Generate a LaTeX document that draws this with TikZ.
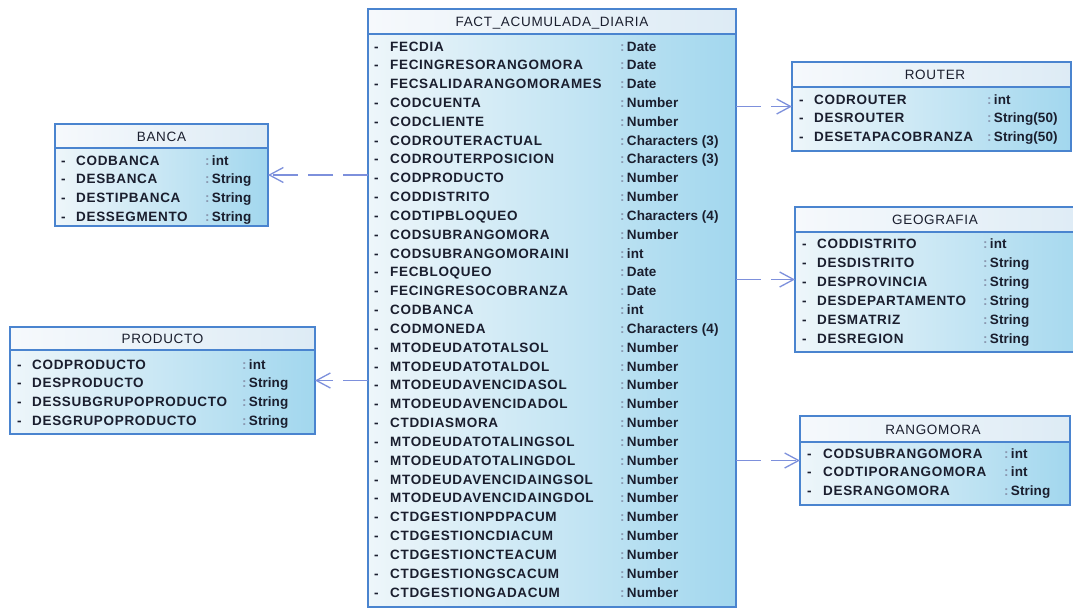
\documentclass[tikz,border=0pt]{standalone}
\usepackage{fontspec}
\setmainfont{Liberation Sans}
\newfontfamily\rowfont[LetterSpace=5]{Liberation Sans}
\newfontfamily\typefont[LetterSpace=0.5]{Liberation Sans}
\newfontfamily\titlefont[LetterSpace=5]{Liberation Sans}
\usetikzlibrary{arrows.meta}

\definecolor{boxline}{HTML}{4A84CF}
\definecolor{fillL}{HTML}{EEF6FA}
\definecolor{fillR}{HTML}{A2D7EE}
\definecolor{hdrL}{HTML}{F6F9FC}
\definecolor{hdrR}{HTML}{DDEBF5}
\definecolor{linkc}{HTML}{7D90DC}
\definecolor{textc}{HTML}{1A1E2E}
\definecolor{colonc}{HTML}{8A98B0}

\tikzset{
  x=1pt, y=-1pt,
  tablebody/.style={draw=boxline, line width=1.5pt, left color=fillL, right color=fillR,
    anchor=north west, inner sep=0pt, outer sep=0pt},
  tablehead/.style={draw=boxline, line width=1.5pt, left color=hdrL, right color=hdrR,
    anchor=north west, inner sep=0pt, outer sep=0pt},
  tabletitle/.style={text=textc, font=\titlefont\fontsize{13.5}{15}\selectfont, inner sep=0pt, anchor=base},
  rowdash/.style={text=textc, font=\rowfont\bfseries\fontsize{13.5}{15}\selectfont, inner sep=0pt, anchor=base west},
  rowname/.style={text=textc, font=\rowfont\bfseries\fontsize{13.5}{15}\selectfont, inner sep=0pt, anchor=base west},
  rowtype/.style={text=textc, font=\typefont\bfseries\fontsize{13.5}{15}\selectfont, inner sep=0pt, anchor=base west},
  link/.style={draw=linkc, line width=1.3pt, dash pattern=on 25pt off 10pt,
    -{Straight Barb[length=14pt,width=15pt,line width=1.3pt]}},
}

% rows of a table: #1 prefix, #2 dash x, #3 name x, #4 colon x, #5 first baseline, #6 row step
\newcommand{\tablerows}[6]{%
  \foreach \n/\t [count=\i from 0] in \rowlist {
    \node[rowdash] (#1-d\i) at (#2, #5+\i*#6) {-};
    \node[rowname] (#1-n\i) at (#3, #5+\i*#6) {\n};
    \node[rowtype] (#1-t\i) at (#4, #5+\i*#6) {{\color{colonc}:}\,\t};
  }%
}

\begin{document}
\begin{tikzpicture}
\useasboundingbox (0,0) rectangle (1073,611);
\fill[white] (0,0) rectangle (1073,611);

% ---- FACT_ACUMULADA_DIARIA ----
\node[tablebody, minimum width=368pt, minimum height=598pt] (fact) at (368,9) {};
\node[tablehead, minimum width=368pt, minimum height=25pt] (facth) at (368,9) {};
\node[tabletitle] (factt) at (552,26) {FACT\_ACUMULADA\_DIARIA};
\def\rowlist{FECDIA/Date, FECINGRESORANGOMORA/Date, FECSALIDARANGOMORAMES/Date,
  CODCUENTA/Number, CODCLIENTE/Number, CODROUTERACTUAL/Characters (3),
  CODROUTERPOSICION/Characters (3), CODPRODUCTO/Number, CODDISTRITO/Number,
  CODTIPBLOQUEO/Characters (4), CODSUBRANGOMORA/Number, CODSUBRANGOMORAINI/int,
  FECBLOQUEO/Date, FECINGRESOCOBRANZA/Date, CODBANCA/int, CODMONEDA/Characters (4),
  MTODEUDATOTALSOL/Number, MTODEUDATOTALDOL/Number, MTODEUDAVENCIDASOL/Number,
  MTODEUDAVENCIDADOL/Number, CTDDIASMORA/Number, MTODEUDATOTALINGSOL/Number,
  MTODEUDATOTALINGDOL/Number, MTODEUDAVENCIDAINGSOL/Number, MTODEUDAVENCIDAINGDOL/Number,
  CTDGESTIONPDPACUM/Number, CTDGESTIONCDIACUM/Number, CTDGESTIONCTEACUM/Number,
  CTDGESTIONGSCACUM/Number, CTDGESTIONGADACUM/Number}
\tablerows{fact}{374}{390}{620}{51}{18.83}

% ---- BANCA ----
\node[tablebody, minimum width=213pt, minimum height=102pt] (banca) at (55,124) {};
\node[tablehead, minimum width=213pt, minimum height=24pt] (bancah) at (55,124) {};
\node[tabletitle] (bancat) at (161.5,141) {BANCA};
\def\rowlist{CODBANCA/int, DESBANCA/String, DESTIPBANCA/String, DESSEGMENTO/String}
\tablerows{banca}{61}{76}{205}{165}{18.7}

% ---- PRODUCTO ----
\node[tablebody, minimum width=305pt, minimum height=107pt] (prod) at (10,327) {};
\node[tablehead, minimum width=305pt, minimum height=23pt] (prodh) at (10,327) {};
\node[tabletitle] (prodt) at (162.5,343.5) {PRODUCTO};
\def\rowlist{CODPRODUCTO/int, DESPRODUCTO/String, DESSUBGRUPOPRODUCTO/String, DESGRUPOPRODUCTO/String}
\tablerows{prod}{17}{32}{242}{369}{18.7}

% ---- ROUTER ----
\node[tablebody, minimum width=279pt, minimum height=89pt] (router) at (792,62) {};
\node[tablehead, minimum width=279pt, minimum height=25pt] (routerh) at (792,62) {};
\node[tabletitle] (routert) at (935,79.5) {ROUTER};
\def\rowlist{CODROUTER/int, DESROUTER/String(50), DESETAPACOBRANZA/String(50)}
\tablerows{router}{799}{814}{987}{104}{18.6}

% ---- GEOGRAFIA ----
\node[tablebody, minimum width=300pt, minimum height=145pt] (geo) at (795,207) {};
\node[tablehead, minimum width=300pt, minimum height=25pt] (geoh) at (795,207) {};
\node[tabletitle] (geot) at (935,224.5) {GEOGRAFIA};
\def\rowlist{CODDISTRITO/int, DESDISTRITO/String, DESPROVINCIA/String,
  DESDEPARTAMENTO/String, DESMATRIZ/String, DESREGION/String}
\tablerows{geo}{802}{817}{983}{248}{19.0}

% ---- RANGOMORA ----
\node[tablebody, minimum width=270pt, minimum height=89pt] (rango) at (800,416) {};
\node[tablehead, minimum width=270pt, minimum height=26pt] (rangoh) at (800,416) {};
\node[tabletitle] (rangot) at (933,434.5) {RANGOMORA};
\def\rowlist{CODSUBRANGOMORA/int, CODTIPORANGOMORA/int, DESRANGOMORA/String}
\tablerows{rango}{807}{823}{1004}{458}{18.6}

% ---- dependencies from the fact table ----
\draw[link] (fact.west |- banca.east) -- (banca.east);
\draw[link] (fact.west |- prod.east) -- (prod.east);
\draw[link] (fact.east |- router.west) -- (router.west);
\draw[link] (fact.east |- geo.west) -- (geo.west);
\draw[link] (fact.east |- rango.west) -- (rango.west);
\end{tikzpicture}
\end{document}
